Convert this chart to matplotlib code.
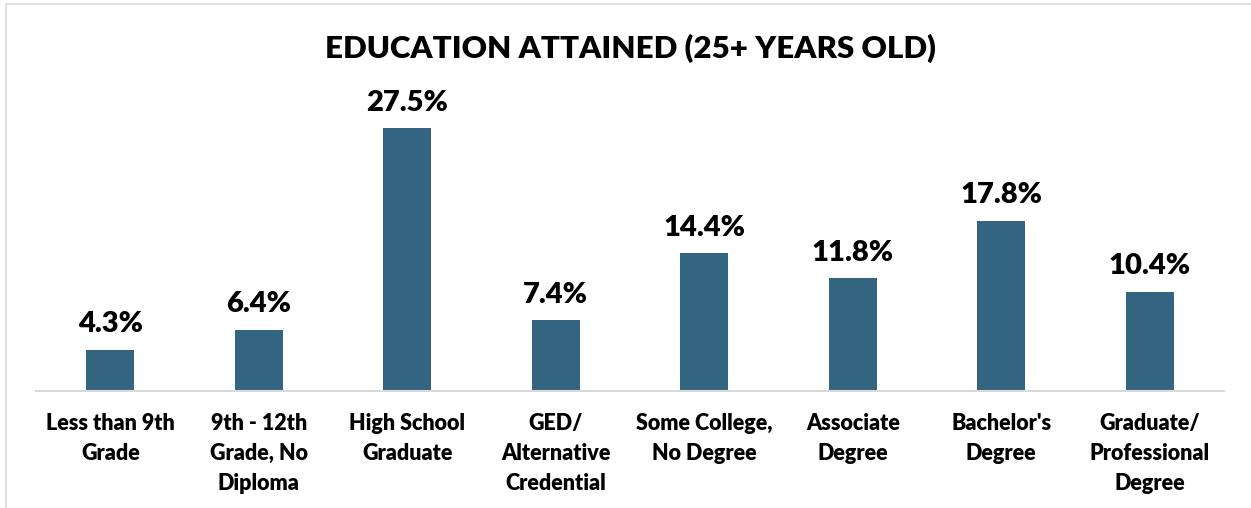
import matplotlib.pyplot as plt
from matplotlib.patches import Rectangle

categories = ["Less than 9th\nGrade", "9th - 12th\nGrade, No\nDiploma", "High School\nGraduate",
              "GED/\nAlternative\nCredential", "Some College,\nNo Degree", "Associate\nDegree",
              "Bachelor's\nDegree", "Graduate/\nProfessional\nDegree"]
values = [4.3, 6.4, 27.5, 7.4, 14.4, 11.8, 17.8, 10.4]

plt.rcParams['font.family'] = ['Lato', 'DejaVu Sans']
W = 'heavy'

fig = plt.figure(figsize=(12.51, 5.08), dpi=100)
# light frame like the chart area border
fig.patches.append(Rectangle((6/1251, -0.1), 1.2, 1 - 4/508 + 0.1, transform=fig.transFigure,
                             fill=False, edgecolor='#d9d9d9', linewidth=1.2))

ax = fig.add_axes([36/1251, 1 - 391/508, (1224-36)/1251, (391-80)/508])
x = range(len(values))
bars = ax.bar(x, values, width=0.32, color='#336480')
for b, v in zip(bars, values):
    ax.text(b.get_x() + b.get_width()/2, v + 1.3, f"{v}%", ha='center', va='bottom',
            fontsize=21, fontweight=W, color='black')

ax.set_xlim(-0.5, len(values) - 0.5)
ax.set_ylim(0, (391-80)/9.56)
ax.set_xticks(list(x))
ax.set_xticklabels(categories, fontsize=15.5, fontweight=W, linespacing=1.52, va='top')
ax.tick_params(axis='x', length=0, pad=16)
ax.set_yticks([])
for s in ['top', 'right', 'left']:
    ax.spines[s].set_visible(False)
ax.spines['bottom'].set_color('#d9d9d9')
ax.spines['bottom'].set_linewidth(1.5)

fig.text(630/1251, 1 - 48/508, "EDUCATION ATTAINED (25+ YEARS OLD)", ha='center', va='center',
         fontsize=22.5, fontweight=W)

fig.savefig("out.png", dpi=100)
